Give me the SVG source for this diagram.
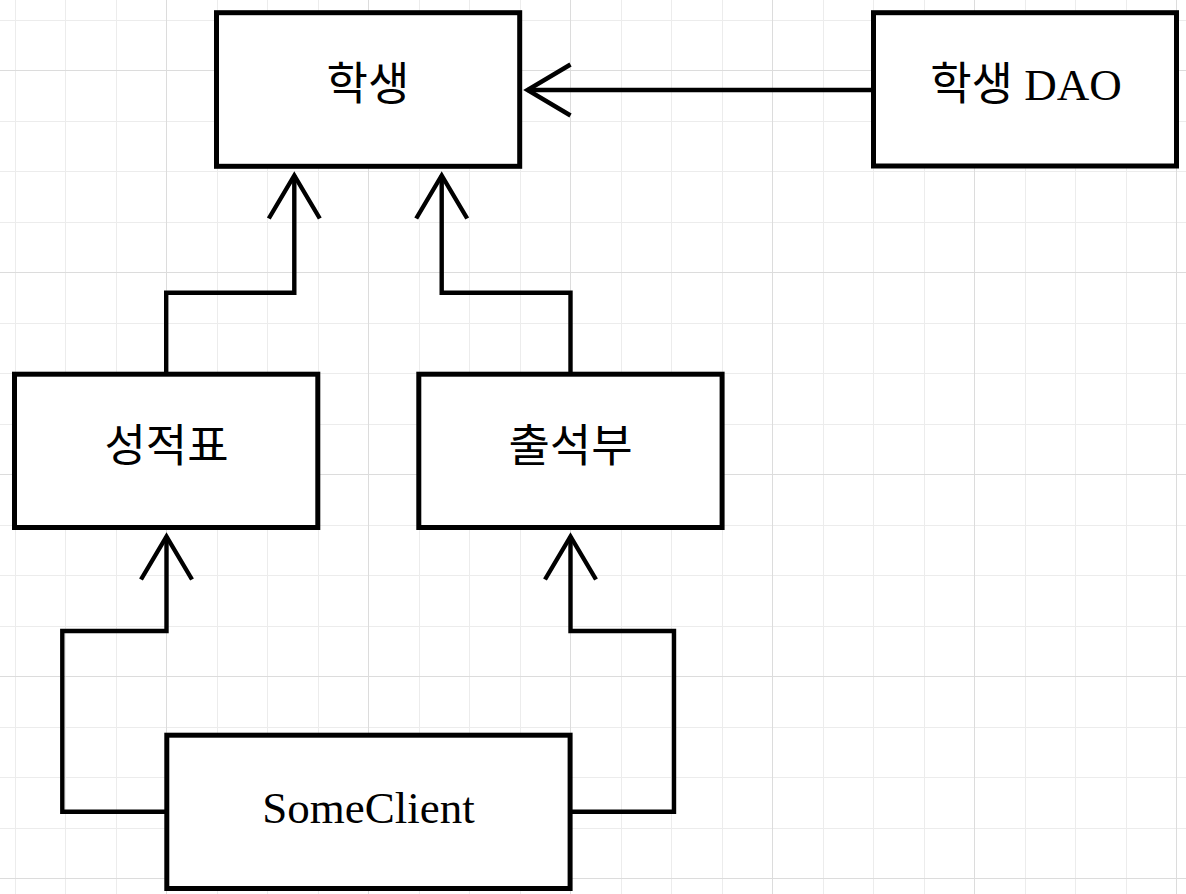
<svg xmlns="http://www.w3.org/2000/svg" width="1186" height="894" viewBox="0 0 1186 894">
  <style>
    .minor { stroke: #ececec; stroke-width: 1; fill: none; }
    .major { stroke: #dcdcdc; stroke-width: 1; fill: none; }
    .box { fill: #ffffff; stroke: #000000; stroke-width: 5; }
    .edge { fill: none; stroke: #000000; stroke-width: 4.4; stroke-linejoin: miter; marker-end: url(#open); }
    .label { font-family: "Liberation Serif", "Noto Sans CJK KR", serif; font-size: 45px; fill: #000000; text-anchor: middle; }
  </style>
  <defs>
    <marker id="open" markerUnits="userSpaceOnUse" viewBox="-50 -32 60 64" refX="0" refY="0" markerWidth="60" markerHeight="64" orient="auto" overflow="visible">
      <path d="M-43,-25.5 L0,0 L-43,25.5" fill="none" stroke="#000000" stroke-width="4.4" stroke-linejoin="miter"/>
    </marker>
  </defs>
  <rect x="0" y="0" width="1186" height="894" fill="#ffffff"/>
  <g id="grid">
    <path class="minor" d="M15.5,0V894 M65.5,0V894 M116.5,0V894 M217.5,0V894 M267.5,0V894 M318.5,0V894 M419.5,0V894 M469.5,0V894 M520.5,0V894 M621.5,0V894 M671.5,0V894 M722.5,0V894 M823.5,0V894 M873.5,0V894 M924.5,0V894 M1025.5,0V894 M1075.5,0V894 M1126.5,0V894 M0,20.5H1186 M0,121.5H1186 M0,171.5H1186 M0,222.5H1186 M0,323.5H1186 M0,373.5H1186 M0,424.5H1186 M0,525.5H1186 M0,575.5H1186 M0,626.5H1186 M0,727.5H1186 M0,777.5H1186 M0,828.5H1186"/>
    <path class="major" d="M166.5,0V894 M368.5,0V894 M570.5,0V894 M772.5,0V894 M974.5,0V894 M1176.5,0V894 M0,70.5H1186 M0,272.5H1186 M0,474.5H1186 M0,676.5H1186 M0,878.5H1186"/>
  </g>
  <g id="connectors">
    <path class="edge" d="M873.5,90 H527.5"/>
    <path class="edge" d="M166.2,374 V292.7 H294.3 V175.5"/>
    <path class="edge" d="M570.5,374 V292.7 H441.7 V175.5"/>
    <path class="edge" d="M166.8,811.7 H62.3 V631 H166.5 V536.5"/>
    <path class="edge" d="M570.1,811.7 H674 V631 H570.5 V536.5"/>
  </g>
  <g id="student">
    <rect class="box" x="216.5" y="12.7" width="303.2" height="153.6"/>
    <text class="label" x="368" y="100">학생</text>
  </g>
  <g id="studentDAO">
    <rect class="box" x="873.5" y="12.7" width="303" height="153.3"/>
    <text class="label" x="1026" y="100">학생 DAO</text>
  </g>
  <g id="gradeReport">
    <rect class="box" x="14.5" y="374.2" width="303.3" height="153.3"/>
    <text class="label" x="166.5" y="462">성적표</text>
  </g>
  <g id="attendance">
    <rect class="box" x="418.8" y="374.2" width="303.3" height="153.3"/>
    <text class="label" x="570.5" y="462">출석부</text>
  </g>
  <g id="someClient">
    <rect class="box" x="166.8" y="735.2" width="403.3" height="153.3"/>
    <text class="label" x="368.5" y="823">SomeClient</text>
  </g>
</svg>
